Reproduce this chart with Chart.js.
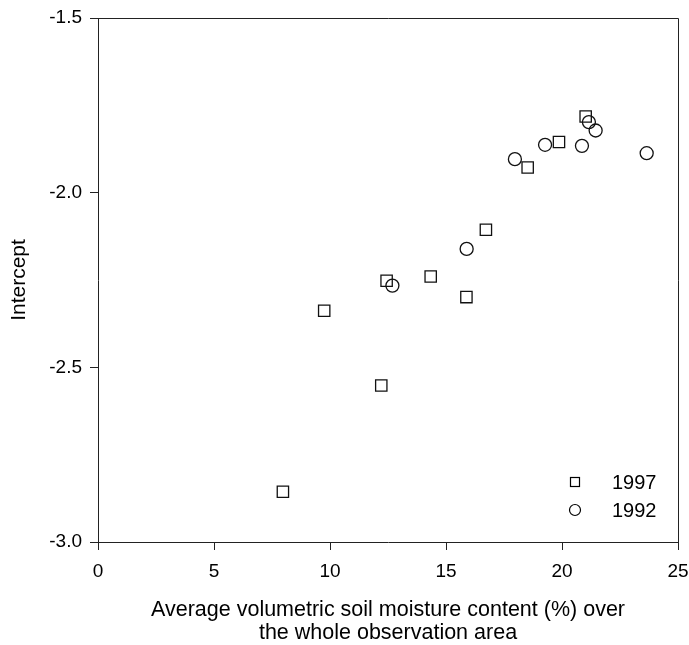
<!DOCTYPE html>
<html>
<head>
<meta charset="utf-8">
<script src="https://cdn.jsdelivr.net/npm/chart.js@4"></script>
<style>
html,body{margin:0;padding:0;background:#fff;}
#wrap{width:689px;height:645px;position:relative;}
</style>
</head>
<body>
<div id="wrap"><canvas id="c" width="689" height="645"></canvas></div>
<script>
const seriesNames = ["1997", "1992"];
const moisture1997 = [21.02, 19.87, 18.52, 16.72, 15.88, 14.34, 12.44, 9.75, 12.21, 7.97];
const intercept1997 = [-1.782, -1.855, -1.928, -2.106, -2.299, -2.240, -2.252, -2.338, -2.552, -2.856];
const moisture1992 = [21.16, 21.45, 20.86, 19.27, 17.97, 23.65, 15.89, 12.69];
const intercept1992 = [-1.798, -1.822, -1.866, -1.863, -1.904, -1.887, -2.161, -2.266];
const xTicks = [0, 5, 10, 15, 20, 25];
const yTicks = [-1.5, -2.0, -2.5, -3.0];
const xTitle = ["Average volumetric soil moisture content (%) over", "the whole observation area"];
const yTitle = "Intercept";

const FONT = "'Liberation Sans', Arial, sans-serif";
const toPts = (xs, ys) => xs.map((x, i) => ({x: x, y: ys[i]}));

const framePlugin = {
  id: 'frame',
  afterDraw(chart) {
    const {ctx, chartArea: a} = chart;
    ctx.save();
    ctx.strokeStyle = '#222';
    ctx.lineWidth = 1;
    ctx.beginPath();
    ctx.moveTo(a.left, a.top + 0.5);
    ctx.lineTo(a.right + 0.5, a.top + 0.5);
    ctx.lineTo(a.right + 0.5, a.bottom);
    ctx.stroke();
    // legend
    const lx = a.right - 103;
    const ly1 = a.bottom - 60;
    const ly2 = a.bottom - 32;
    ctx.strokeStyle = '#000';
    ctx.lineWidth = 1.2;
    ctx.strokeRect(lx - 4.5, ly1 - 4.5, 9, 9);
    ctx.beginPath();
    ctx.arc(lx, ly2, 5.5, 0, Math.PI * 2);
    ctx.stroke();
    ctx.fillStyle = '#000';
    ctx.font = "20px " + FONT;
    ctx.textAlign = 'left';
    ctx.textBaseline = 'middle';
    ctx.fillText(seriesNames[0], lx + 37, ly1 + 1);
    ctx.fillText(seriesNames[1], lx + 37, ly2 + 1);
    ctx.restore();
  }
};

new Chart(document.getElementById('c'), {
  type: 'scatter',
  data: {
    datasets: [
      {
        label: seriesNames[0],
        data: toPts(moisture1997, intercept1997),
        pointStyle: 'rect',
        pointRadius: 8,
        pointHoverRadius: 8,
        borderColor: '#111',
        borderWidth: 1.3,
        backgroundColor: 'rgba(0,0,0,0)'
      },
      {
        label: seriesNames[1],
        data: toPts(moisture1992, intercept1992),
        pointStyle: 'circle',
        pointRadius: 6.5,
        pointHoverRadius: 6.5,
        borderColor: '#111',
        borderWidth: 1.3,
        backgroundColor: 'rgba(0,0,0,0)'
      }
    ]
  },
  options: {
    responsive: false,
    animation: false,
    events: [],
    layout: {padding: {top: 18, right: 11, left: 0, bottom: 0}},
    plugins: {legend: {display: false}, tooltip: {enabled: false}},
    scales: {
      x: {
        type: 'linear',
        min: 0, max: 25,
        afterBuildTicks: s => { s.ticks = xTicks.map(v => ({value: v})); },
        afterFit: s => { s.height = 103; s.paddingLeft = 0; s.paddingRight = 0; },
        ticks: {
          color: '#000', font: {family: FONT, size: 19}, padding: 10,
          maxRotation: 0, autoSkip: false,
          callback: v => String(v)
        },
        grid: {display: true, drawOnChartArea: false, drawTicks: true, tickLength: 8, color: '#222', lineWidth: 1},
        border: {display: true, color: '#222', width: 1},
        title: {display: true, text: xTitle, color: '#000', font: {family: FONT, size: 21.5, lineHeight: 1.07}, padding: {top: 0, bottom: 0.5}}
      },
      y: {
        type: 'linear',
        min: -3.0, max: -1.5,
        afterBuildTicks: s => { s.ticks = yTicks.map(v => ({value: v})); },
        afterFit: s => { s.width = 98; s.paddingTop = 0; s.paddingBottom = 0; },
        ticks: {
          color: '#000', font: {family: FONT, size: 19}, padding: 8,
          autoSkip: false,
          callback: v => Number(v).toFixed(1)
        },
        grid: {display: true, drawOnChartArea: false, drawTicks: true, tickLength: 8, color: '#222', lineWidth: 1},
        border: {display: true, color: '#222', width: 1},
        title: {display: true, text: yTitle, color: '#000', font: {family: FONT, size: 21, lineHeight: 1.2}, padding: {top: 7, bottom: 0}}
      }
    }
  },
  plugins: [framePlugin]
});
</script>
</body>
</html>
